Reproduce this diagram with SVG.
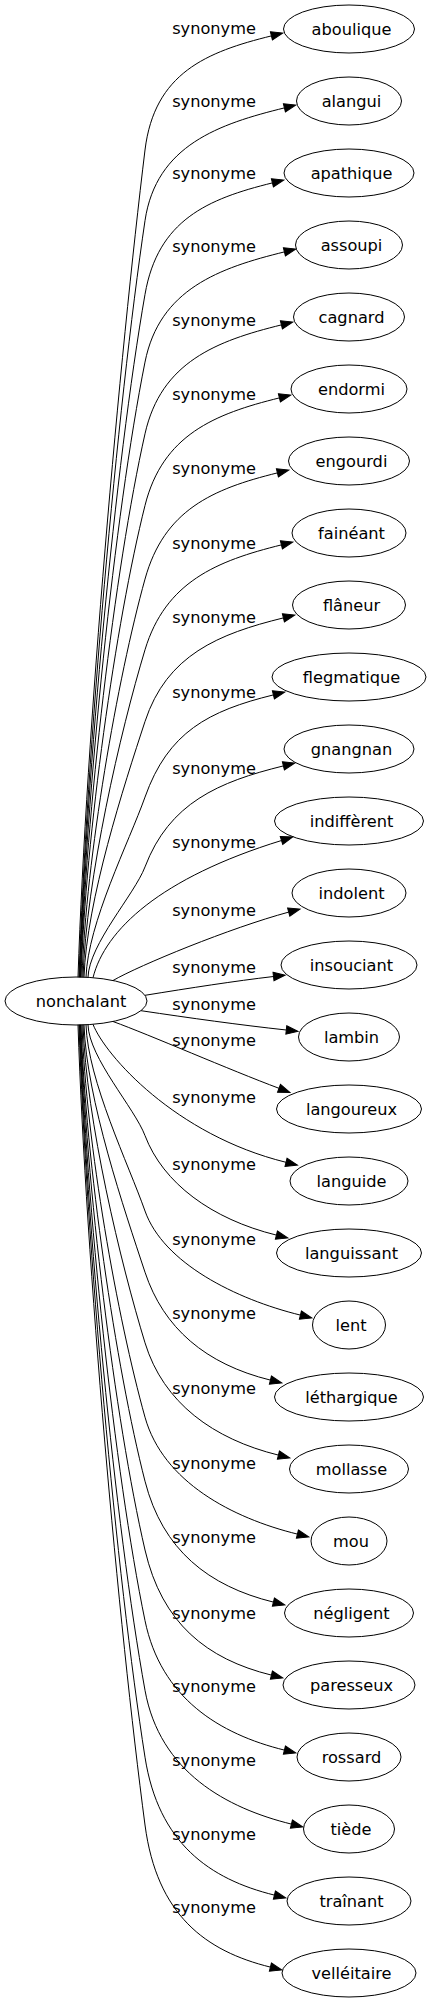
<svg xmlns="http://www.w3.org/2000/svg" width="430" height="2003" viewBox="0 0 430 2003">
<style>
.n ellipse{fill:none;stroke:#000;stroke-width:1}
text{font-family:"DejaVu Sans","Liberation Sans",sans-serif;font-size:16.2px;fill:#000;text-anchor:middle}
.e path{fill:none;stroke:#000;stroke-width:1;marker-end:url(#arr)}
</style>
<defs>
<marker id="arr" markerUnits="userSpaceOnUse" markerWidth="14" markerHeight="10" refX="0" refY="4.2" orient="auto" overflow="visible">
<path d="M0,0 L11.7,4.2 L0,8.4 z" fill="#000" stroke="#000" stroke-width="1"/>
</marker>
</defs>
<rect width="430" height="2003" fill="#fff"/>
<g id="connectors" class="e">
<path d="M78,977.2 C86.3,729 119.8,356.8 145,150 C154.4,73 206.4,51.9 271.4,35.9"/>
<path d="M79,977.2 C86.6,750.2 117,409.8 145,220.7 C156.2,145 219.4,123.9 284.4,107.9"/>
<path d="M79.5,977.2 C86.3,772.4 115.3,465.1 145,294.4 C157.9,220 207.4,198.9 272.4,182.9"/>
<path d="M80,977.2 C86.2,792.7 114.4,515.9 145,362.1 C159.5,289 219.4,267.9 284.4,251.9"/>
<path d="M80.5,977.2 C85.9,814.2 114.5,569.7 145,433.8 C161.1,362 216.4,340.9 281.4,324.9"/>
<path d="M81,977.2 C85.7,835.7 115.5,623.4 145,505.5 C162.6,435 214.4,413.9 279.4,397.9"/>
<path d="M82,977.2 C86,857.8 117.4,678.6 145,579.1 C164.1,510 212.4,488.9 277.4,472.9"/>
<path d="M83,977.2 C86.3,879 120.3,731.7 145,649.8 C165.5,582 216.4,560.9 281.4,544.9"/>
<path d="M84,977.2 C86.6,900.5 124,785.4 145,721.5 C166.8,655 218.4,633.9 283.4,617.9"/>
<path d="M86,977.2 C87.8,923.2 129,842.1 145,797.1 C168.1,732 208.4,710.9 273.4,694.9"/>
<path d="M88,977.3 C89.1,944.1 134.5,894.5 145,866.9 C169.3,803 218.4,781.9 283.4,765.9"/>
<path d="M93,977.7 C105,930 160,878 281.5,840.5"/>
<path d="M113,980.5 C140,965 230,928 288.7,912.1"/>
<path d="M145,995.3 C190,988 235,981 273.5,976.5"/>
<path d="M141,1010.7 C190,1018 240,1025 286.3,1030"/>
<path d="M113,1021.5 C150,1035 230,1070 279,1088.3"/>
<path d="M93,1024.3 C105,1055 175,1135 286,1162.3"/>
<path d="M88,1024.8 C89.1,1058 134.5,1107.9 145,1135.6 C163,1183 211.4,1219.1 276.4,1235.1"/>
<path d="M86,1024.8 C87.9,1080.7 128.6,1164.4 145,1211 C163.4,1263 235.4,1299.1 300.4,1315.1"/>
<path d="M84,1024.8 C86.5,1099 124.5,1210.3 145,1272.2 C163.5,1328 205.4,1364.1 270.4,1380.1"/>
<path d="M83,1024.8 C86.2,1120.2 120.7,1263.3 145,1342.8 C163.4,1403 213.4,1439.1 278.4,1455.1"/>
<path d="M82,1024.8 C85.9,1142.5 117.6,1319.1 145,1417.2 C163.1,1482 232.4,1518.1 297.4,1534.1"/>
<path d="M81,1024.8 C85.6,1161.7 115.8,1367.1 145,1481.2 C162.6,1550 208.4,1586.1 273.4,1602.1"/>
<path d="M80.5,1024.8 C85.8,1182.4 114.7,1418.7 145,1550 C161.9,1623 206.4,1659.1 271.4,1675.1"/>
<path d="M80,1024.8 C86,1203.5 114.4,1471.6 145,1620.6 C160.9,1698 219.4,1734.1 284.4,1750.1"/>
<path d="M79.5,1024.8 C86.2,1224.5 115,1523.9 145,1690.3 C159.8,1772 226.4,1808.1 291.4,1824.1"/>
<path d="M79,1024.8 C86.3,1244.5 116.3,1574.1 145,1757.2 C158.4,1843 209.4,1879.1 274.4,1895.1"/>
<path d="M78,1024.8 C86,1264.9 118.6,1625 145,1825 C156.9,1915 205.4,1951.1 270.4,1967.1"/>
<g id="edge-labels">
<text x="214" y="34">synonyme</text>
<text x="214" y="107">synonyme</text>
<text x="214" y="179">synonyme</text>
<text x="214" y="252">synonyme</text>
<text x="214" y="326">synonyme</text>
<text x="214" y="400">synonyme</text>
<text x="214" y="474">synonyme</text>
<text x="214" y="549">synonyme</text>
<text x="214" y="623">synonyme</text>
<text x="214" y="698">synonyme</text>
<text x="214" y="774">synonyme</text>
<text x="214" y="848">synonyme</text>
<text x="214" y="916">synonyme</text>
<text x="214" y="973">synonyme</text>
<text x="214" y="1010">synonyme</text>
<text x="214" y="1046">synonyme</text>
<text x="214" y="1103">synonyme</text>
<text x="214" y="1170">synonyme</text>
<text x="214" y="1245">synonyme</text>
<text x="214" y="1319">synonyme</text>
<text x="214" y="1394">synonyme</text>
<text x="214" y="1469">synonyme</text>
<text x="214" y="1543">synonyme</text>
<text x="214" y="1619">synonyme</text>
<text x="214" y="1692">synonyme</text>
<text x="214" y="1766">synonyme</text>
<text x="214" y="1840">synonyme</text>
<text x="214" y="1913">synonyme</text>
</g>
</g>
<g id="node-nonchalant" class="n"><ellipse cx="76" cy="1001" rx="71" ry="24"/><text x="81" y="1006.5">nonchalant</text></g>
<g id="node-aboulique" class="n"><ellipse cx="349" cy="29" rx="65.5" ry="24"/><text x="351.5" y="34.5">aboulique</text></g>
<g id="node-alangui" class="n"><ellipse cx="349" cy="101" rx="52.5" ry="24"/><text x="351.5" y="106.5">alangui</text></g>
<g id="node-apathique" class="n"><ellipse cx="349" cy="173" rx="65" ry="24"/><text x="351.5" y="178.5">apathique</text></g>
<g id="node-assoupi" class="n"><ellipse cx="349" cy="245" rx="53.5" ry="24"/><text x="351.5" y="250.5">assoupi</text></g>
<g id="node-cagnard" class="n"><ellipse cx="349" cy="317" rx="55.5" ry="24"/><text x="351.5" y="322.5">cagnard</text></g>
<g id="node-endormi" class="n"><ellipse cx="349" cy="389" rx="58" ry="24"/><text x="351.5" y="394.5">endormi</text></g>
<g id="node-engourdi" class="n"><ellipse cx="349" cy="461" rx="60.5" ry="24"/><text x="351.5" y="466.5">engourdi</text></g>
<g id="node-faineant" class="n"><ellipse cx="349" cy="533" rx="57" ry="24"/><text x="351.5" y="538.5">fainéant</text></g>
<g id="node-flaneur" class="n"><ellipse cx="349" cy="605" rx="56.5" ry="24"/><text x="351.5" y="610.5">flâneur</text></g>
<g id="node-flegmatique" class="n"><ellipse cx="349" cy="677" rx="77" ry="24"/><text x="351.5" y="682.5">flegmatique</text></g>
<g id="node-gnangnan" class="n"><ellipse cx="349" cy="749" rx="65" ry="24"/><text x="351.5" y="754.5">gnangnan</text></g>
<g id="node-indifferent" class="n"><ellipse cx="349" cy="821" rx="74.5" ry="24"/><text x="351.5" y="826.5">indiffèrent</text></g>
<g id="node-indolent" class="n"><ellipse cx="349" cy="893" rx="57" ry="24"/><text x="351.5" y="898.5">indolent</text></g>
<g id="node-insouciant" class="n"><ellipse cx="349" cy="965" rx="68" ry="24"/><text x="351.5" y="970.5">insouciant</text></g>
<g id="node-lambin" class="n"><ellipse cx="349" cy="1037" rx="50.5" ry="24"/><text x="351.5" y="1042.5">lambin</text></g>
<g id="node-langoureux" class="n"><ellipse cx="349" cy="1109" rx="72.5" ry="24"/><text x="351.5" y="1114.5">langoureux</text></g>
<g id="node-languide" class="n"><ellipse cx="349" cy="1181" rx="59" ry="24"/><text x="351.5" y="1186.5">languide</text></g>
<g id="node-languissant" class="n"><ellipse cx="349" cy="1253" rx="72.5" ry="24"/><text x="351.5" y="1258.5">languissant</text></g>
<g id="node-lent" class="n"><ellipse cx="349" cy="1325" rx="36.5" ry="24"/><text x="351" y="1330.5">lent</text></g>
<g id="node-lethargique" class="n"><ellipse cx="349" cy="1397" rx="74.5" ry="24"/><text x="351.5" y="1402.5">léthargique</text></g>
<g id="node-mollasse" class="n"><ellipse cx="349" cy="1469" rx="59.5" ry="24"/><text x="351.5" y="1474.5">mollasse</text></g>
<g id="node-mou" class="n"><ellipse cx="349" cy="1541" rx="38" ry="24"/><text x="351" y="1546.5">mou</text></g>
<g id="node-negligent" class="n"><ellipse cx="349" cy="1613" rx="64.5" ry="24"/><text x="351.5" y="1618.5">négligent</text></g>
<g id="node-paresseux" class="n"><ellipse cx="349" cy="1685" rx="66" ry="24"/><text x="351.5" y="1690.5">paresseux</text></g>
<g id="node-rossard" class="n"><ellipse cx="349" cy="1757" rx="52" ry="24"/><text x="351.5" y="1762.5">rossard</text></g>
<g id="node-tiede" class="n"><ellipse cx="349" cy="1829" rx="45.5" ry="24"/><text x="351" y="1834.5">tiède</text></g>
<g id="node-trainant" class="n"><ellipse cx="349" cy="1901" rx="62" ry="24"/><text x="351.5" y="1906.5">traînant</text></g>
<g id="node-velleitaire" class="n"><ellipse cx="349" cy="1973" rx="67" ry="24"/><text x="351.5" y="1978.5">velléitaire</text></g>
</svg>
